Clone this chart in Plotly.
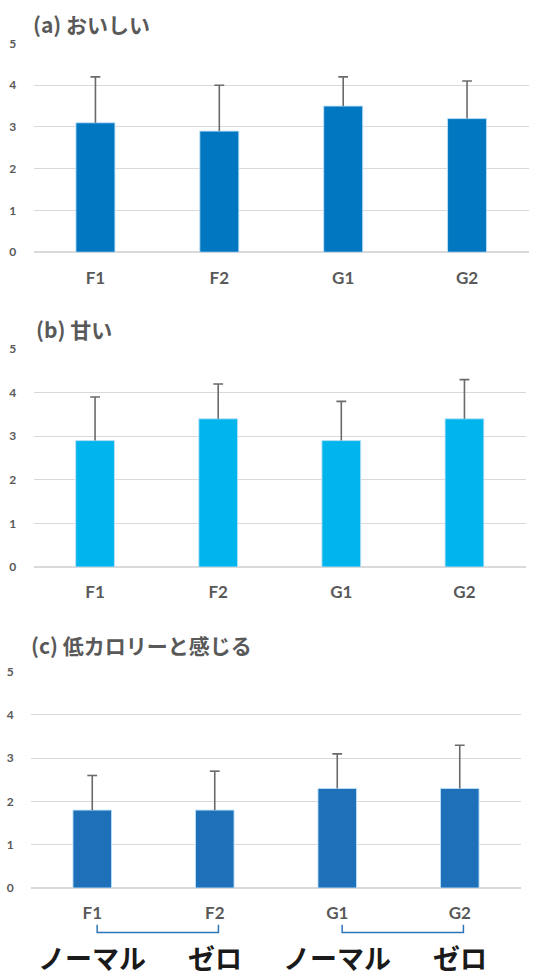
import plotly.graph_objects as go

W, H = 540, 977

categories = ["F1", "F2", "G1", "G2"]

# (a) おいしい
vals_a = [3.1, 2.9, 3.5, 3.2]
err_a = [1.1, 1.1, 0.7, 0.9]
# (b) 甘い
vals_b = [2.9, 3.4, 2.9, 3.4]
err_b = [1.0, 0.8, 0.9, 0.9]
# (c) 低カロリーと感じる
vals_c = [1.8, 1.8, 2.3, 2.3]
err_c = [0.8, 0.9, 0.8, 1.0]

titles = ["(a) おいしい", "(b) 甘い", "(c) 低カロリーと感じる"]
group_labels = ["ノーマル", "ゼロ", "ノーマル", "ゼロ"]
y_ticks = [0, 1, 2, 3, 4, 5]


def px(x):
    return x / W


def py(y):
    return 1 - y / H


GRAY = "#595959"
ERRC = "#6a6a6a"
TICKFONT = "Lato, 'Open Sans', sans-serif"
CJK = "'Noto Sans CJK JP', sans-serif"

panels = [
    # values, errors, color, x-left, x-right, y0 pixel, y5 pixel, title x, title y
    (vals_a, err_a, "#0077C0", 33.5, 529.0, 248.0, 36.0, 31, 16),
    (vals_b, err_b, "#00B4EC", 33.5, 526.0, 567.7, 346.4, 34, 326),
    (vals_c, err_c, "#1E71B9", 31.0, 521.0, 893.7, 674.0, 29, 647),
]

fig = go.Figure()
layout = dict(
    width=W, height=H,
    margin=dict(l=0, r=0, t=0, b=0),
    paper_bgcolor="white", plot_bgcolor="white",
    showlegend=False,
    bargap=0.685,
)
annotations = []
shapes = []

for i, (vals, errs, color, xl, xr, y0, y5, tx, ty) in enumerate(panels):
    n = i + 1
    xa = "x" if n == 1 else f"x{n}"
    ya = "y" if n == 1 else f"y{n}"
    fig.add_trace(go.Bar(
        x=categories, y=vals, xaxis=xa, yaxis=ya,
        marker=dict(color=color, line=dict(color="rgba(190,225,250,0.9)", width=1)),
        error_y=dict(type="data", symmetric=False, array=errs,
                     arrayminus=[0] * len(errs), color=ERRC,
                     thickness=1.6, width=0),
        hoverinfo="skip",
    ))
    # caps on top of the error bars
    tops = [v + e for v, e in zip(vals, errs)]
    fig.add_trace(go.Scatter(
        x=categories, y=tops, xaxis=xa, yaxis=ya, mode="markers",
        marker=dict(symbol="line-ew", size=7, color=ERRC,
                    line=dict(color=ERRC, width=1.6)),
        hoverinfo="skip",
    ))
    xkey = "xaxis" if n == 1 else f"xaxis{n}"
    ykey = "yaxis" if n == 1 else f"yaxis{n}"
    layout[xkey] = dict(
        domain=[px(xl), px(xr)], anchor=ya, type="category",
        showgrid=False, showline=False, zeroline=False,
        ticks="outside", ticklen=10, tickcolor="rgba(0,0,0,0)",
        tickfont=dict(family=TICKFONT, size=17, color=GRAY, weight="bold"),
        fixedrange=True,
    )
    layout[ykey] = dict(
        domain=[py(y0), py(y5)], anchor=xa, range=[0, 5],
        tickvals=y_ticks, showgrid=True, gridcolor="#d9d9d9", gridwidth=1,
        zeroline=True, zerolinecolor="#d9d9d9", zerolinewidth=1.5,
        showline=False,
        ticks="outside", ticklen=14, tickcolor="rgba(0,0,0,0)",
        tickfont=dict(family=TICKFONT, size=12, color=GRAY, weight="bold"),
        fixedrange=True,
    )
    annotations.append(dict(
        text=f"<b>{titles[i]}</b>", xref="paper", yref="paper",
        x=px(tx), y=py(ty), xanchor="left", yanchor="middle",
        showarrow=False, font=dict(family=CJK, size=21, color=GRAY),
    ))

# brackets and group labels under panel (c)
bracket_top = 931
bracket_bot = 939
for a, b in [(0, 1), (2, 3)]:
    shapes.append(dict(
        type="path", xref="x3", yref="paper",
        path=(f"M {a + 0.04},{py(bracket_top)} L {a + 0.04},{py(bracket_bot)} "
              f"L {b + 0.03},{py(bracket_bot)} L {b + 0.03},{py(bracket_top)}"),
        line=dict(color="#2E75B6", width=1.5),
    ))
for j, lab in enumerate(group_labels):
    annotations.append(dict(
        text=f"<b>{lab}</b>", xref="x3", yref="paper",
        x=categories[j], y=py(964), xanchor="center", yanchor="middle",
        showarrow=False, font=dict(family=CJK, size=27, color="#1a1a1a"),
    ))

layout["annotations"] = annotations
layout["shapes"] = shapes
fig.update_layout(**layout)
fig.write_html("out.html")
